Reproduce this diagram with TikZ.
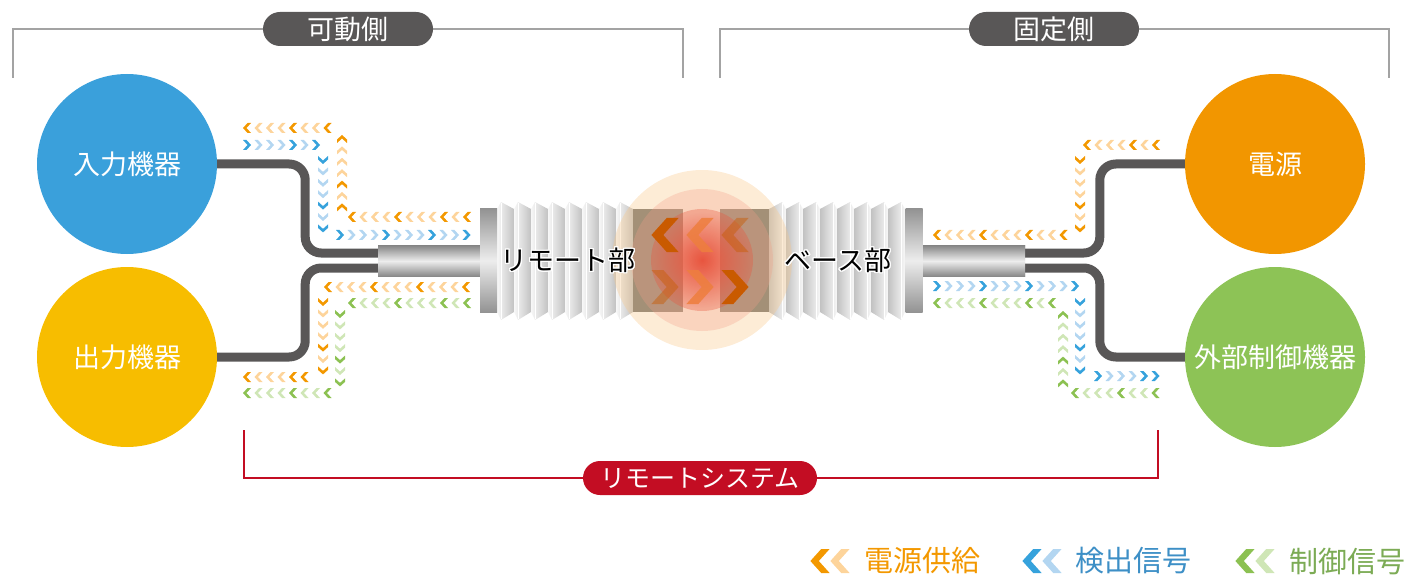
\documentclass[tikz,border=0pt]{standalone}
\usepackage{fontspec}
\setmainfont{Noto Sans CJK JP}
\usepackage[copies]{contour}
\contourlength{1.4pt}
\usetikzlibrary{fadings}

\definecolor{bracketGray}{HTML}{A3A3A3}
\definecolor{pillGray}{HTML}{595757}
\definecolor{cableGray}{HTML}{595757}
\definecolor{sysRed}{HTML}{C30D23}
\definecolor{inBlue}{HTML}{3AA0DB}
\definecolor{outYellow}{HTML}{F7BD00}
\definecolor{pwrOrange}{HTML}{F29600}
\definecolor{ctlGreen}{HTML}{8DC356}
\definecolor{orDark}{HTML}{F39800}
\definecolor{orLight}{HTML}{FDD49B}
\definecolor{blDark}{HTML}{36A2DC}
\definecolor{blLight}{HTML}{B3D6F1}
\definecolor{grDark}{HTML}{8CC152}
\definecolor{grLight}{HTML}{CFE6B6}
\definecolor{tubeDark}{HTML}{8A8A8A}
\definecolor{tubeLight}{HTML}{EDEDED}
\definecolor{capDark}{HTML}{939393}
\definecolor{ridgeLight}{HTML}{F7F7F7}
\definecolor{ridgeDark}{HTML}{C2C2C2}
\definecolor{blockGray}{HTML}{76726E}
\definecolor{glowPeach}{HTML}{F9C88A}
\definecolor{glowPink}{HTML}{F2A088}
\definecolor{glowRed}{HTML}{E8553F}
\definecolor{bigDark}{HTML}{C95A00}
\definecolor{bigMid}{HTML}{EE7E3E}
\definecolor{blText}{HTML}{3D8FC6}
\definecolor{grText}{HTML}{7CAB55}

\tikzfading[name=glowfade, inner color=transparent!0, outer color=transparent!100]

% row of small chevrons: x, y, dx, dy, count, pic, dark colour, light colour
\newcommand{\chevrun}[8]{%
  \foreach \k in {1,...,#5}{%
    \pgfmathtruncatemacro{\m}{mod(\k-1,4)}%
    \ifnum\m=0 \def\chcol{#7}\else\def\chcol{#8}\fi
    \ifnum\k=#5 \def\chcol{#7}\fi
    \pic at ({#1+(\k-1)*(#3)},{#2+(\k-1)*(#4)}) {#6=\chcol};
  }}

\begin{document}
\begin{tikzpicture}[x=1pt,y=-1pt]
    % Define styles
    \tikzset{
        bracket/.style={line width=2pt, bracketGray},
        pill/.style={fill=pillGray, text=white, rounded corners=17pt, minimum width=170pt, minimum height=34pt, inner sep=0pt, font=\fontsize{27}{27}\selectfont},
        device/.style={circle, minimum size=180pt, inner sep=0pt, text=white, font=\fontsize{27}{27}\selectfont},
        cable/.style={line width=9pt, cableGray, rounded corners=16pt},
        tube/.style={top color=tubeDark, bottom color=tubeDark, middle color=tubeLight, minimum width=102pt, minimum height=30pt, inner sep=0pt},
        endcap/.style={top color=capDark, bottom color=capDark, middle color=tubeLight, minimum width=17pt, minimum height=103pt, inner sep=0pt},
        block/.style={fill=blockGray, minimum height=103pt, inner sep=0pt},
        partlabel/.style={font=\fontsize{27}{27}\selectfont},
        legendtext/.style={font=\fontsize{29}{29}\selectfont, anchor=west, inner sep=0pt},
        pics/chevL/.style={code={\fill[#1] (-4,0) -- (0.5,-5) -- (4,-5) -- (-0.5,0) -- (4,5) -- (0.5,5) -- cycle;}},
        pics/chevR/.style={code={\fill[#1] (4,0) -- (-0.5,-5) -- (-4,-5) -- (0.5,0) -- (-4,5) -- (-0.5,5) -- cycle;}},
        pics/chevU/.style={code={\fill[#1] (0,-4) -- (-5,0.5) -- (-5,4) -- (0,-0.5) -- (5,4) -- (5,0.5) -- cycle;}},
        pics/chevD/.style={code={\fill[#1] (0,4) -- (-5,-0.5) -- (-5,-4) -- (0,0.5) -- (5,-4) -- (5,-0.5) -- cycle;}}
    }
    \useasboundingbox (0,0) rectangle (1404,577);

    % Side brackets
    \draw[bracket] (13,78) -- (13,29) -- (683,29) -- (683,78);
    \draw[bracket] (720,78) -- (720,29) -- (1389,29) -- (1389,78);
    \node[pill] (movable) at (348,29) {可動側};
    \node[pill] (fixed) at (1054,29) {固定側};

    % System bracket
    \draw[line width=2pt, sysRed] (244,430) -- (244,478) -- (1158,478) -- (1158,430);
    \node[pill, fill=sysRed, minimum width=234pt, font=\fontsize{25}{25}\selectfont] (system) at (700,478) {リモートシステム};

    % Tubes and cable ends
    \node[tube] (ltube) at (429,261) {};
    \node[tube] (rtube) at (974,261) {};
    \coordinate (lt1) at (380,253);
    \coordinate (lt2) at (380,268);
    \coordinate (rt1) at (1023,253);
    \coordinate (rt2) at (1023,268);

    % Devices
    \node[device, fill=inBlue] (inp) at (127,164) {入力機器};
    \node[device, fill=outYellow] (outp) at (127,357) {出力機器};
    \node[device, fill=pwrOrange] (pwr) at (1275,164) {電源};
    \node[device, fill=ctlGreen] (ctl) at (1275,357) {外部制御機器};

    % Cables
    \draw[cable] (inp.east) -- ++(88,0) |- (lt1);
    \draw[cable] (outp.east) -- ++(88,0) |- (lt2);
    \draw[cable] (pwr.west) -- ++(-85,0) |- (rt1);
    \draw[cable] (ctl.west) -- ++(-85,0) |- (rt2);
    \node[tube] at (ltube) {};
    \node[tube] at (rtube) {};

    % Signal flows, movable side
    \chevrun{247}{128}{11.5}{0}{8}{chevL}{orDark}{orLight}
    \chevrun{247}{145}{11.5}{0}{7}{chevR}{blDark}{blLight}
    \chevrun{323}{160}{0}{11.4}{7}{chevD}{blDark}{blLight}
    \chevrun{342}{139}{0}{11.4}{7}{chevU}{orDark}{orLight}
    \chevrun{352}{217}{11.5}{0}{11}{chevL}{orDark}{orLight}
    \chevrun{340}{235}{11.5}{0}{12}{chevR}{blDark}{blLight}
    \chevrun{328}{287}{11.5}{0}{13}{chevL}{orDark}{orLight}
    \chevrun{352}{303}{11.5}{0}{11}{chevL}{grDark}{grLight}
    \chevrun{323}{302}{0}{11.4}{7}{chevD}{orDark}{orLight}
    \chevrun{340}{314}{0}{11.4}{7}{chevD}{grDark}{grLight}
    \chevrun{247}{377}{11.5}{0}{6}{chevL}{orDark}{orLight}
    \chevrun{247}{393}{11.5}{0}{8}{chevL}{grDark}{grLight}

    % Signal flows, fixed side
    \chevrun{1087}{145}{11.5}{0}{7}{chevL}{orDark}{orLight}
    \chevrun{1080}{160}{0}{11.4}{7}{chevD}{orDark}{orLight}
    \chevrun{937}{235}{11.5}{0}{12}{chevL}{orDark}{orLight}
    \chevrun{937}{286}{11.5}{0}{13}{chevR}{blDark}{blLight}
    \chevrun{937}{303}{11.5}{0}{11}{chevL}{grDark}{grLight}
    \chevrun{1080}{302}{0}{11.4}{7}{chevD}{blDark}{blLight}
    \chevrun{1063}{315}{0}{11.4}{7}{chevU}{grDark}{grLight}
    \chevrun{1098}{376}{11.5}{0}{6}{chevR}{blDark}{blLight}
    \chevrun{1075}{393}{11.5}{0}{8}{chevL}{grDark}{grLight}

    % Bellows
    \foreach \i in {0,...,7} {
        \shade[left color=ridgeLight, right color=ridgeDark] ({497+17*\i},209) -- ++(4,-7) -- ++(13,7) -- ++(0,103) -- ++(-13,8) -- ++(-4,-8) -- cycle;
        \draw[white, line width=1pt] ({501+17*\i},203) -- ({501+17*\i},319);
        \shade[left color=ridgeDark, right color=ridgeLight] ({769+17*\i},209) -- ++(13,-7) -- ++(4,7) -- ++(0,103) -- ++(-4,8) -- ++(-13,-8) -- cycle;
        \draw[white, line width=1pt] ({782+17*\i},203) -- ({782+17*\i},319);
    }
    \node[endcap] (lcap) at (488.5,260.5) {};
    \node[endcap] (rcap) at (914,260.5) {};
    \node[block, minimum width=50pt] (lblock) at (658,260.5) {};
    \node[block, minimum width=49pt] (rblock) at (744.5,260.5) {};

    % Coupling glow
    \coordinate (glow) at (702,260);
    \fill[glowPeach, opacity=.35] (glow) circle (90);
    \fill[glowPink, opacity=.3] (glow) circle (71);
    \fill[glowRed, opacity=.35] (glow) circle (51);
    \fill[glowRed, path fading=glowfade] (glow) circle (48);

    % Transfer chevrons
    \pic[scale=3.4] at (665,235) {chevL=bigDark};
    \pic[scale=3.4] at (700,235) {chevL={bigMid, opacity=.85}};
    \pic[scale=3.4] at (735,235) {chevL={bigDark, opacity=.45}};
    \pic[scale=3.4] at (665,287) {chevR={bigDark, opacity=.45}};
    \pic[scale=3.4] at (700,287) {chevR={bigMid, opacity=.85}};
    \pic[scale=3.4] at (735,287) {chevR=bigDark};

    \node[partlabel] (remote) at (568,261) {\contour{white}{リモート部}};
    \node[partlabel] (base) at (838,261) {\contour{white}{ベース部}};

    % Legend
    \pic[scale=2.4] at (820,561) {chevL=orDark};
    \pic[scale=2.4] at (840,561) {chevL=orLight};
    \node[legendtext, text=orDark] (legPower) at (864,561) {電源供給};
    \pic[scale=2.4] at (1032,561) {chevL=blDark};
    \pic[scale=2.4] at (1052,561) {chevL=blLight};
    \node[legendtext, text=blText] (legSense) at (1075,561) {検出信号};
    \pic[scale=2.4] at (1245,561) {chevL=grDark};
    \pic[scale=2.4] at (1265,561) {chevL=grLight};
    \node[legendtext, text=grText] (legCtrl) at (1289,561) {制御信号};
\end{tikzpicture}
\end{document}
